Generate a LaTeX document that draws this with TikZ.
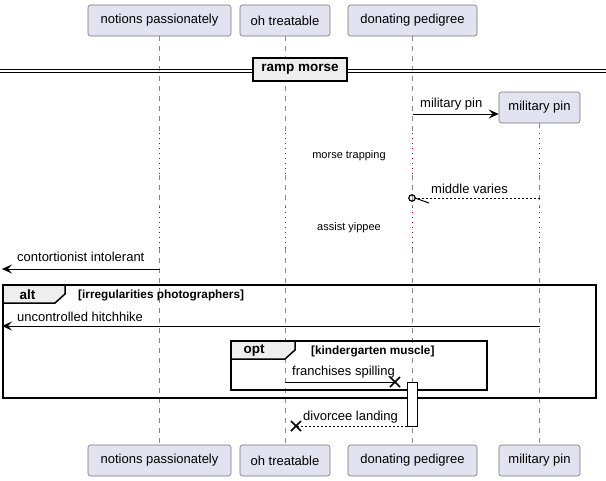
\documentclass[tikz,border=0pt]{standalone}
\usepackage{fontspec}
\setmainfont{Liberation Sans}
\usetikzlibrary{arrows.meta,calc}
\definecolor{partfill}{HTML}{E2E2F0}
\definecolor{partline}{HTML}{181818}
\definecolor{tabfill}{HTML}{EEEEEE}
\definecolor{delaydot}{HTML}{A80036}
\definecolor{lifegray}{HTML}{888888}
\begin{document}
\begin{tikzpicture}[x=1pt,y=-1pt,
  part/.style={draw=partline!60, line width=0.6pt, fill=partfill, rounded corners=2.5pt,
    minimum height=31pt, inner sep=0pt, font=\fontsize{13}{15}\selectfont},
  life/.style={draw=lifegray, line width=0.6pt, dash pattern=on 5pt off 5pt},
  lifedot/.style={draw=delaydot, line width=0.9pt, dash pattern=on 1pt off 4pt},
  msg/.style={draw=black, line width=0.8pt, -{Stealth[length=10pt,width=9pt,inset=4pt]}},
  msgplain/.style={draw=black, line width=0.8pt},
  ret/.style={draw=black, line width=0.8pt, dash pattern=on 2pt off 2pt},
  lbl/.style={font=\fontsize{13}{15}\selectfont, inner sep=0pt, anchor=west},
  dly/.style={font=\fontsize{11}{13}\selectfont, inner sep=0pt},
  frm/.style={draw=black, line width=1.5pt},
  tab/.style={draw=black, line width=1.5pt, fill=tabfill},
  ftitle/.style={font=\bfseries\fontsize{13.5}{15}\selectfont, inner sep=0pt},
  fcond/.style={font=\bfseries\fontsize{11.8}{13}\selectfont, inner sep=0pt, anchor=west},
  xmark/.style={draw=black, line width=1.6pt}
]
\useasboundingbox (0,0) rectangle (606,480);
\fill[white] (0,0) rectangle (606,480);

% participants top
\node[part, minimum width=143pt] (nA) at (159.5,20.5) {notions passionately};
\node[part, minimum width=90pt] (nB) at (285,20.5) {oh treatable};
\node[part, minimum width=129pt] (nC) at (412.5,20.5) {donating pedigree};
% participants bottom
\node[part, minimum width=143pt] (nAb) at (159.5,460.5) {notions passionately};
\node[part, minimum width=90pt] (nBb) at (285,460.5) {oh treatable};
\node[part, minimum width=129pt] (nCb) at (412.5,460.5) {donating pedigree};
\node[part, minimum width=81pt] (nDb) at (539.5,460.5) {military pin};

% level coordinates
\coordinate (d1) at (0,133);
\coordinate (d2) at (0,175);
\coordinate (d3) at (0,207);
\coordinate (d4) at (0,248);

% created participant
\node[part, minimum width=81pt] (nD) at (539.5,107.5) {military pin};

% lifelines
\foreach \t/\b in {nA/nAb, nB/nBb, nC/nCb}{
  \draw[life] (\t.south) -- (\t.south |- d1);
  \draw[lifedot] (\t.south |- d1) -- (\t.south |- d2);
  \draw[life] (\t.south |- d2) -- (\t.south |- d3);
  \draw[lifedot] (\t.south |- d3) -- (\t.south |- d4);
  \draw[life] (\t.south |- d4) -- (\b.north);
}
\draw[life] (nD.south) -- (nD.south |- d1);
\draw[lifedot] (nD.south |- d1) -- (nD.south |- d2);
\draw[life] (nD.south |- d2) -- (nD.south |- d3);
\draw[lifedot] (nD.south |- d3) -- (nD.south |- d4);
\draw[life] (nD.south |- d4) -- (nDb.north);

% divider
\draw[line width=0.8pt] (0,69) -- (606,69);
\draw[line width=0.8pt] (0,72) -- (606,72);
\node[draw=black, line width=1.8pt, fill=tabfill, minimum width=94pt, minimum height=23pt, inner sep=0pt,
  font=\bfseries\fontsize{13.5}{15}\selectfont] (div) at (300,69.5) {ramp morse};

% message: military pin
\coordinate (m1) at (0,114);
\draw[msg] (nC.south |- m1) -- (nD.west |- m1);
\node[lbl] (t1) at (420,104) {military pin};

% delays
\node[dly] (dl1) at (349,156) {morse trapping};
\node[dly] (dl2) at (349,228) {assist yippee};

% middle varies
\coordinate (m2) at (0,198);
\coordinate (m2c) at (412,198);
\draw[ret] (nD.south |- m2) -- (415,198);
\draw[line width=1.2pt] (m2c) circle (3.2pt);
\draw[line width=1pt] (415,198) -- (429,203);
\node[lbl] (t2) at (431,189) {middle varies};

% contortionist intolerant
\coordinate (m3) at (0,269);
\coordinate (e3) at (2,269);
\draw[msg] (nA.south |- m3) -- (e3);
\node[lbl] (t3) at (17,257) {contortionist intolerant};

% alt frame
\draw[frm] (3,285) rectangle (596,398);
\draw[tab] (3,285) -- (65,285) -- (65,294) -- (55,303) -- (3,303) -- cycle;
\node[ftitle] (altt) at (27.5,294.5) {alt};
\node[fcond] (altc) at (78,295) {[irregularities photographers]};

% uncontrolled hitchhike
\coordinate (m4) at (0,326);
\coordinate (e4) at (2,326);
\draw[msg] (nD.south |- m4) -- (e4);
\node[lbl] (t4) at (17,317) {uncontrolled hitchhike};

% opt frame
\draw[frm] (231,341) rectangle (487,390);
\draw[tab] (231,341) -- (295,341) -- (295,350) -- (285,359) -- (231,359) -- cycle;
\node[ftitle] (optt) at (254,350.5) {opt};
\node[fcond] (optc) at (311,351) {[kindergarten muscle]};

% activation
\node[draw=black, line width=0.8pt, fill=white, minimum width=10pt, minimum height=44pt, inner sep=0pt] (act) at (412,404) {};

% franchises spilling
\coordinate (m5) at (0,382);
\coordinate (x5) at (395,382);
\draw[msgplain] (nB.south |- m5) -- (x5);
\draw[xmark] ($(x5)+(-5,-5)$) -- ($(x5)+(5,5)$);
\draw[xmark] ($(x5)+(-5,5)$) -- ($(x5)+(5,-5)$);
\node[lbl] (t5) at (292,372) {franchises spilling};

% divorcee landing
\coordinate (m6) at (0,426);
\coordinate (x6) at (296,426);
\draw[ret] (act.west |- m6) -- (x6);
\draw[xmark] ($(x6)+(-5,-5)$) -- ($(x6)+(5,5)$);
\draw[xmark] ($(x6)+(-5,5)$) -- ($(x6)+(5,-5)$);
\node[lbl] (t6) at (303,417) {divorcee landing};
\end{tikzpicture}
\end{document}
